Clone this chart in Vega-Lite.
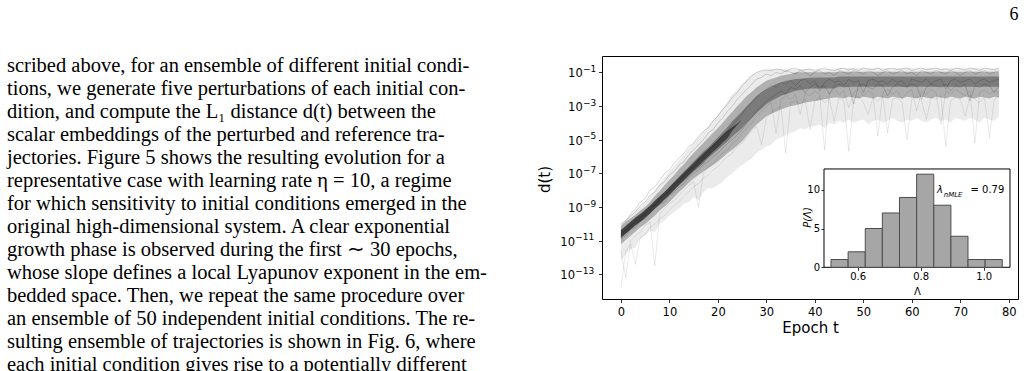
{
"$schema":"https://vega.github.io/schema/vega-lite/v6.json",
"background":"white",
"padding":{"left":7,"top":5,"right":0,"bottom":0},
"bounds":"flush",
"spacing":95,
"title":{"text":"6","anchor":"end","font":"Liberation Serif","fontSize":18,"fontWeight":"normal","color":"black","offset":32},
"config":{
 "view":{"stroke":"black","strokeWidth":1},
 "axis":{"grid":false,"domain":false,"tickColor":"black","tickWidth":0.8,"labelColor":"black","titleColor":"black","labelFont":"DejaVu Sans","titleFont":"DejaVu Sans","titleFontWeight":"normal","labelFontSize":11.5,"titleFontSize":15,"tickSize":3.5,"labelPadding":2}
},
"datasets":{
"page":[
{"line":0,"text":"scribed above, for an ensemble of different initial condi-"},
{"line":1,"text":"tions, we generate five perturbations of each initial con-"},
{"line":2,"text":"dition, and compute the L₁ distance d(t) between the"},
{"line":3,"text":"scalar embeddings of the perturbed and reference tra-"},
{"line":4,"text":"jectories.  Figure 5 shows the resulting evolution for a"},
{"line":5,"text":"representative case with learning rate η = 10, a regime"},
{"line":6,"text":"for which sensitivity to initial conditions emerged in the"},
{"line":7,"text":"original high-dimensional system.  A clear exponential"},
{"line":8,"text":"growth phase is observed during the first ∼ 30 epochs,"},
{"line":9,"text":"whose slope defines a local Lyapunov exponent in the em-"},
{"line":10,"text":"bedded space. Then, we repeat the same procedure over"},
{"line":11,"text":"an ensemble of 50 independent initial conditions. The re-"},
{"line":12,"text":"sulting ensemble of trajectories is shown in Fig. 6, where"},
{"line":13,"text":"each initial condition gives rise to a potentially different"}
],
"yt":[
{"v":0.1,"ex":"−1"},{"v":0.001,"ex":"−3"},{"v":1e-5,"ex":"−5"},{"v":1e-7,"ex":"−7"},{"v":1e-9,"ex":"−9"},{"v":1e-11,"ex":"−11"},{"v":1e-13,"ex":"−13"}
],
"hist":[
{"x0":0.5152,"x1":0.5696,"n":1},
{"x0":0.5696,"x1":0.6240,"n":2},
{"x0":0.6240,"x1":0.6783,"n":5},
{"x0":0.6783,"x1":0.7327,"n":7},
{"x0":0.7327,"x1":0.7871,"n":9},
{"x0":0.7871,"x1":0.8415,"n":12},
{"x0":0.8415,"x1":0.8959,"n":8},
{"x0":0.8959,"x1":0.9502,"n":4},
{"x0":0.9502,"x1":1.0046,"n":1},
{"x0":1.0046,"x1":1.0590,"n":1}
],
"traj":[
{"t":0,"hi":1e-10,"mh":7.1e-11,"kh":4.5e-11,"ek":4.2e-11,"el":1.5e-11,"kl":1.4e-11,"ml":6.3e-12,"lo":6.3e-13,"a":8e-11,"b":2.5e-11,"c":2.5e-12,"d":1.3e-11,"e":1.6e-14,"f":1e-10},
{"t":1,"hi":1.8e-10,"mh":1.3e-10,"kh":8e-11,"ek":7.4e-11,"el":2.7e-11,"kl":2.5e-11,"ml":1.1e-11,"lo":1.6e-12,"a":1.3e-10,"b":4e-11,"c":6.3e-14,"d":2e-11,"e":2.5e-12,"f":1.6e-10},
{"t":2,"hi":3.2e-10,"mh":2.2e-10,"kh":1.4e-10,"ek":1.3e-10,"el":4.8e-11,"kl":4.5e-11,"ml":2e-11,"lo":3.2e-12,"a":3.2e-10,"b":8e-11,"c":1e-11,"d":5e-11,"e":6.3e-12,"f":4e-10},
{"t":3,"hi":6.3e-10,"mh":3.5e-10,"kh":2.5e-10,"ek":2.3e-10,"el":8.5e-11,"kl":8e-11,"ml":3.5e-11,"lo":4e-12,"a":5e-10,"b":1.3e-10,"c":2e-11,"d":6.3e-11,"e":4e-13,"f":8e-10},
{"t":4,"hi":1.1e-9,"mh":6.3e-10,"kh":4e-10,"ek":3.7e-10,"el":1.35e-10,"kl":1.3e-10,"ml":6.3e-11,"lo":1.3e-11,"a":1.3e-9,"b":2.5e-10,"c":3.2e-11,"d":1.6e-10,"e":1.6e-11,"f":2e-9},
{"t":5,"hi":2e-9,"mh":1e-9,"kh":7.1e-10,"ek":6.6e-10,"el":2.4e-10,"kl":2.2e-10,"ml":1e-10,"lo":2e-11,"a":2e-9,"b":4e-10,"c":8e-11,"d":2e-10,"e":2.5e-11,"f":3.2e-9},
{"t":6,"hi":4.5e-9,"mh":2e-9,"kh":1.3e-9,"ek":1.17e-9,"el":4.3e-10,"kl":4e-10,"ml":1.8e-10,"lo":4e-11,"a":5e-9,"b":1e-9,"c":1.3e-10,"d":5e-10,"e":6.3e-11,"f":1e-8},
{"t":7,"hi":1e-8,"mh":4.5e-9,"kh":2.5e-9,"ek":2.3e-9,"el":8.5e-10,"kl":8e-10,"ml":3.2e-10,"lo":3.2e-11,"a":8e-9,"b":1.3e-9,"c":3.2e-13,"d":8e-10,"e":1e-10,"f":1.6e-8},
{"t":8,"hi":2.5e-8,"mh":8.9e-9,"kh":4.5e-9,"ek":4.2e-9,"el":1.5e-9,"kl":1.4e-9,"ml":6.3e-10,"lo":1e-10,"a":2e-8,"b":3.2e-9,"c":4e-10,"d":1.6e-9,"e":2e-10,"f":4e-8},
{"t":9,"hi":5.6e-8,"mh":2e-8,"kh":8e-9,"ek":7.8e-9,"el":2.8e-9,"kl":2.8e-9,"ml":1.1e-9,"lo":1.6e-10,"a":3.2e-8,"b":5e-9,"c":8e-10,"d":2e-9,"e":3.2e-10,"f":1e-7},
{"t":10,"hi":1.3e-7,"mh":4e-8,"kh":1.6e-8,"ek":1.5e-8,"el":5.4e-9,"kl":5e-9,"ml":2e-9,"lo":3.2e-10,"a":8e-8,"b":1e-8,"c":1.6e-9,"d":5e-9,"e":6.3e-10,"f":1.6e-7},
{"t":11,"hi":2.8e-7,"mh":8e-8,"kh":3.2e-8,"ek":3e-8,"el":1.07e-8,"kl":1e-8,"ml":4e-9,"lo":5e-10,"a":1.3e-7,"b":2.5e-8,"c":2.5e-9,"d":8e-9,"e":1.3e-9,"f":4e-7},
{"t":12,"hi":6.3e-7,"mh":1.8e-7,"kh":6.3e-8,"ek":5.9e-8,"el":2.1e-8,"kl":2e-8,"ml":8e-9,"lo":8e-10,"a":3.2e-7,"b":3.2e-8,"c":5e-9,"d":1.6e-8,"e":2e-9,"f":8e-7},
{"t":13,"hi":1.4e-6,"mh":3.5e-7,"kh":1.3e-7,"ek":1.1e-7,"el":4e-8,"kl":3.5e-8,"ml":1.4e-8,"lo":1.6e-9,"a":5e-7,"b":8e-8,"c":1e-8,"d":2.5e-8,"e":5e-9,"f":1.6e-6},
{"t":14,"hi":3.2e-6,"mh":8e-7,"kh":2.5e-7,"ek":2.2e-7,"el":7.9e-8,"kl":7.1e-8,"ml":2.8e-8,"lo":2e-9,"a":1.3e-6,"b":1.6e-7,"c":2e-8,"d":6.3e-8,"e":8e-9,"f":4e-6},
{"t":15,"hi":6.3e-6,"mh":1.6e-6,"kh":5e-7,"ek":4.2e-7,"el":1.5e-7,"kl":1.3e-7,"ml":5e-8,"lo":4e-9,"a":2.5e-6,"b":2.5e-7,"c":3.2e-8,"d":1e-7,"e":1.6e-8,"f":6.3e-6},
{"t":16,"hi":1.4e-5,"mh":3.2e-6,"kh":1e-6,"ek":7.8e-7,"el":2.8e-7,"kl":2.2e-7,"ml":8e-8,"lo":2.5e-9,"a":5e-6,"b":6.3e-7,"c":1e-9,"d":1.6e-7,"e":2.5e-8,"f":1.6e-5},
{"t":17,"hi":3.2e-5,"mh":6.3e-6,"kh":2e-6,"ek":1.5e-6,"el":5.4e-7,"kl":4e-7,"ml":1.3e-7,"lo":8e-9,"a":1e-5,"b":1e-6,"c":1e-7,"d":3.2e-7,"e":5e-8,"f":3.2e-5},
{"t":18,"hi":6.3e-5,"mh":1.3e-5,"kh":3.5e-6,"ek":2.8e-6,"el":1e-6,"kl":8e-7,"ml":2e-7,"lo":1.3e-8,"a":2.5e-5,"b":2.5e-6,"c":2.5e-7,"d":5e-7,"e":8e-8,"f":5e-5},
{"t":19,"hi":1.4e-4,"mh":2.5e-5,"kh":7.1e-6,"ek":5.2e-6,"el":1.9e-6,"kl":1.4e-6,"ml":3.2e-7,"lo":1.3e-8,"a":4e-5,"b":4e-6,"c":4e-7,"d":1e-6,"e":1.6e-7,"f":1.3e-4},
{"t":20,"hi":3.2e-4,"mh":5e-5,"kh":1.4e-5,"ek":9.8e-6,"el":3.5e-6,"kl":2.5e-6,"ml":5e-7,"lo":2e-8,"a":1e-4,"b":8e-6,"c":8e-7,"d":1.6e-6,"e":2.5e-7,"f":2.5e-4},
{"t":21,"hi":8e-4,"mh":1e-4,"kh":2.8e-5,"ek":1.9e-5,"el":6.8e-6,"kl":4.5e-6,"ml":8.9e-7,"lo":3.2e-8,"a":2e-4,"b":2e-5,"c":1.6e-6,"d":3.2e-6,"e":5e-7,"f":6.3e-4},
{"t":22,"hi":2e-3,"mh":2.2e-4,"kh":5.6e-5,"ek":3.5e-5,"el":1.26e-5,"kl":8e-6,"ml":1.6e-6,"lo":6.3e-8,"a":5e-4,"b":3.2e-5,"c":2.5e-6,"d":6.3e-6,"e":1e-6,"f":1.3e-3},
{"t":23,"hi":5e-3,"mh":4.5e-4,"kh":1.3e-4,"ek":5.6e-5,"el":3.5e-5,"kl":1.6e-5,"ml":2.5e-6,"lo":1e-7,"a":1e-3,"b":8e-5,"c":6.3e-6,"d":1e-5,"e":1.6e-6,"f":3.2e-3},
{"t":24,"hi":0.01,"mh":1e-3,"kh":2.5e-4,"ek":9.3e-5,"el":7.4e-5,"kl":2.8e-5,"ml":4.5e-6,"lo":2e-7,"a":2.5e-3,"b":1.6e-4,"c":1e-5,"d":2e-5,"e":4e-6,"f":6.3e-3},
{"t":25,"hi":0.02,"mh":2e-3,"kh":5e-4,"ek":1.6e-4,"el":1.6e-4,"kl":5e-5,"ml":8e-6,"lo":3.2e-7,"a":5e-3,"b":3.2e-4,"c":2.5e-5,"d":4e-5,"e":6.3e-6,"f":0.016},
{"t":26,"hi":0.04,"mh":4e-3,"kh":1e-3,"kl":1e-4,"ml":1.8e-5,"lo":5e-7,"a":0.01,"b":8e-4,"c":5e-5,"d":1e-4,"e":1.6e-5,"f":0.032},
{"t":27,"hi":0.071,"mh":7.1e-3,"kh":2e-3,"kl":2e-4,"ml":4e-5,"lo":8e-7,"a":0.02,"b":1.6e-3,"c":1e-4,"d":2e-4,"e":3.2e-5,"f":0.063},
{"t":28,"hi":0.1,"mh":0.013,"kh":4e-3,"kl":4e-4,"ml":8e-5,"lo":1.6e-6,"a":0.04,"b":3.2e-3,"c":2.5e-4,"d":5e-4,"e":6.3e-5,"f":0.1},
{"t":29,"hi":0.126,"mh":0.02,"kh":6.3e-3,"kl":7.1e-4,"ml":1.4e-4,"lo":2.5e-6,"a":0.05,"b":6.3e-3,"c":5e-4,"d":1e-3,"e":5e-6,"f":0.126},
{"t":30,"hi":0.14,"mh":0.032,"kh":0.01,"kl":1.3e-3,"ml":2.5e-4,"lo":4e-6,"a":0.08,"b":0.01,"c":1e-3,"d":2e-3,"e":2e-4,"f":0.14},
{"t":31,"hi":0.16,"mh":0.04,"kh":0.014,"kl":2e-3,"ml":3.5e-4,"lo":5e-6,"a":0.063,"b":0.016,"c":1.6e-3,"d":3.2e-3,"e":4e-4,"f":0.126},
{"t":32,"hi":0.16,"mh":0.05,"kh":0.02,"kl":2.8e-3,"ml":4.5e-4,"lo":1e-5,"a":0.1,"b":0.013,"c":2.5e-5,"d":5e-3,"e":6.3e-4,"f":0.16},
{"t":33,"hi":0.16,"mh":0.063,"kh":0.025,"kl":4e-3,"ml":6.3e-4,"lo":1.3e-5,"a":0.08,"b":0.025,"c":2.5e-3,"d":8e-3,"e":1e-3,"f":0.14},
{"t":34,"hi":0.16,"mh":0.071,"kh":0.032,"kl":5e-3,"ml":8e-4,"lo":2e-5,"a":0.126,"b":0.02,"c":4e-3,"d":5e-3,"e":1.6e-6,"f":0.11},
{"t":35,"hi":0.16,"mh":0.08,"kh":0.035,"kl":6.3e-3,"ml":1e-3,"lo":2.5e-5,"a":0.1,"b":0.032,"c":2.5e-3,"d":0.013,"e":1.6e-3,"f":0.16},
{"t":36,"hi":0.16,"mh":0.1,"kh":0.04,"kl":8e-3,"ml":1.1e-3,"lo":3.2e-5,"a":0.08,"b":0.016,"c":5e-3,"d":0.01,"e":2e-3,"f":0.18},
{"t":37,"hi":0.16,"mh":0.1,"kh":0.042,"kl":8.9e-3,"ml":1.3e-3,"lo":5e-5,"a":0.126,"b":0.032,"c":3.2e-4,"d":0.016,"e":1.3e-3,"f":0.126},
{"t":38,"hi":0.16,"mh":0.1,"kh":0.045,"kl":0.01,"ml":1.6e-3,"lo":4e-5,"a":0.1,"b":0.04,"c":6.3e-3,"d":6.3e-3,"e":2.5e-3,"f":0.14},
{"t":39,"hi":0.16,"mh":0.1,"kh":0.048,"kl":0.011,"ml":1.8e-3,"lo":6.3e-5,"a":0.063,"b":0.02,"c":4e-3,"d":0.013,"e":4e-5,"f":0.16},
{"t":40,"hi":0.16,"mh":0.1,"kh":0.05,"kl":0.011,"ml":2e-3,"lo":6.3e-5,"a":0.1,"b":0.032,"c":8e-3,"d":0.02,"e":2e-3,"f":0.11},
{"t":41,"hi":0.16,"mh":0.1,"kh":0.05,"kl":0.011,"ml":2.2e-3,"lo":8e-5,"a":0.126,"b":8e-3,"c":5e-3,"d":0.013,"e":3.2e-3,"f":0.16},
{"t":42,"hi":0.16,"mh":0.1,"kh":0.05,"kl":0.011,"ml":2.5e-3,"lo":5e-5,"a":0.08,"b":0.025,"c":2.5e-6,"d":0.016,"e":1.6e-3,"f":0.18},
{"t":43,"hi":0.16,"mh":0.1,"kh":0.05,"kl":0.011,"ml":2.8e-3,"lo":1e-4,"a":0.1,"b":0.04,"c":6.3e-3,"d":5e-3,"e":2.5e-3,"f":0.14},
{"t":44,"hi":0.16,"mh":0.1,"kh":0.05,"kl":0.011,"ml":3.2e-3,"lo":8e-5,"a":0.063,"b":0.025,"c":0.01,"d":0.016,"e":1.3e-4,"f":0.126},
{"t":45,"hi":0.18,"mh":0.11,"kh":0.056,"kl":0.014,"ml":3.2e-3,"lo":1.3e-4,"a":0.126,"b":0.032,"c":5e-3,"d":0.02,"e":3.2e-3,"f":0.16},
{"t":46,"hi":0.17,"mh":0.11,"kh":0.056,"kl":0.014,"ml":2.8e-3,"lo":1e-4,"a":0.1,"b":0.016,"c":8e-3,"d":0.013,"e":2e-3,"f":0.18},
{"t":47,"hi":0.18,"mh":0.11,"kh":0.056,"kl":0.014,"ml":3.5e-3,"lo":1.6e-4,"a":0.08,"b":0.04,"c":8e-4,"d":0.016,"e":2e-6,"f":0.14},
{"t":48,"hi":0.19,"mh":0.11,"kh":0.056,"kl":0.014,"ml":3.2e-3,"lo":1e-4,"a":0.126,"b":0.025,"c":6.3e-3,"d":1.3e-3,"e":2.5e-3,"f":0.16},
{"t":49,"hi":0.18,"mh":0.11,"kh":0.056,"kl":0.014,"ml":2.8e-3,"lo":1.3e-4,"a":0.1,"b":0.032,"c":0.01,"d":0.016,"e":4e-3,"f":0.126},
{"t":50,"hi":0.18,"mh":0.11,"kh":0.056,"kl":0.014,"ml":3.5e-3,"lo":1.6e-4,"a":0.08,"b":0.0063,"c":4e-3,"d":0.02,"e":1.6e-3,"f":0.18},
{"t":51,"hi":0.17,"mh":0.11,"kh":0.056,"kl":0.014,"ml":3.2e-3,"lo":8e-5,"a":0.126,"b":0.032,"c":8e-3,"d":0.013,"e":3.2e-4,"f":0.16},
{"t":52,"hi":0.18,"mh":0.11,"kh":0.056,"kl":0.014,"ml":2.8e-3,"lo":1.3e-4,"a":0.1,"b":0.04,"c":5e-3,"d":0.01,"e":3.2e-3,"f":0.14},
{"t":53,"hi":0.19,"mh":0.11,"kh":0.056,"kl":0.014,"ml":3.5e-3,"lo":1.6e-4,"a":0.063,"b":0.025,"c":1.6e-5,"d":0.02,"e":2e-3,"f":0.18},
{"t":54,"hi":0.18,"mh":0.11,"kh":0.056,"kl":0.014,"ml":3.2e-3,"lo":1e-4,"a":0.1,"b":0.032,"c":6.3e-3,"d":0.016,"e":4e-3,"f":0.126},
{"t":55,"hi":0.18,"mh":0.11,"kh":0.056,"kl":0.014,"ml":2.8e-3,"lo":1.3e-4,"a":0.126,"b":0.02,"c":0.01,"d":4e-3,"e":2.5e-5,"f":0.16},
{"t":56,"hi":0.17,"mh":0.11,"kh":0.056,"kl":0.014,"ml":3.5e-3,"lo":2e-4,"a":0.08,"b":0.04,"c":5e-3,"d":0.013,"e":2.5e-3,"f":0.18},
{"t":57,"hi":0.18,"mh":0.11,"kh":0.056,"kl":0.014,"ml":3.2e-3,"lo":1.3e-4,"a":0.1,"b":0.025,"c":8e-3,"d":0.02,"e":3.2e-3,"f":0.14},
{"t":58,"hi":0.19,"mh":0.11,"kh":0.056,"kl":0.014,"ml":2.8e-3,"lo":1e-4,"a":0.126,"b":0.032,"c":2.5e-3,"d":0.016,"e":1.6e-3,"f":0.16},
{"t":59,"hi":0.18,"mh":0.11,"kh":0.056,"kl":0.014,"ml":3.5e-3,"lo":1.6e-4,"a":0.08,"b":0.013,"c":6.3e-3,"d":0.013,"e":1e-5,"f":0.18},
{"t":60,"hi":0.18,"mh":0.11,"kh":0.056,"kl":0.014,"ml":3.2e-3,"lo":1.3e-4,"a":0.1,"b":0.04,"c":0.01,"d":0.02,"e":2.5e-3,"f":0.126},
{"t":61,"hi":0.17,"mh":0.11,"kh":0.056,"kl":0.014,"ml":2.8e-3,"lo":2e-4,"a":0.063,"b":0.032,"c":5e-4,"d":0.016,"e":4e-3,"f":0.16},
{"t":62,"hi":0.18,"mh":0.11,"kh":0.056,"kl":0.014,"ml":3.5e-3,"lo":1.3e-4,"a":0.126,"b":0.025,"c":8e-3,"d":2.5e-3,"e":2e-3,"f":0.18},
{"t":63,"hi":0.19,"mh":0.11,"kh":0.056,"kl":0.014,"ml":3.2e-3,"lo":1e-4,"a":0.1,"b":0.04,"c":5e-3,"d":0.013,"e":1.6e-4,"f":0.14},
{"t":64,"hi":0.18,"mh":0.11,"kh":0.056,"kl":0.014,"ml":2.8e-3,"lo":1.6e-4,"a":0.08,"b":0.02,"c":0.01,"d":0.02,"e":3.2e-3,"f":0.16},
{"t":65,"hi":0.18,"mh":0.11,"kh":0.056,"kl":0.014,"ml":3.5e-3,"lo":2e-4,"a":0.126,"b":0.032,"c":6.3e-3,"d":0.016,"e":2.5e-3,"f":0.18},
{"t":66,"hi":0.17,"mh":0.11,"kh":0.056,"kl":0.014,"ml":3.2e-3,"lo":1.3e-4,"a":0.1,"b":0.04,"c":8e-5,"d":0.013,"e":4e-3,"f":0.14},
{"t":67,"hi":0.18,"mh":0.11,"kh":0.056,"kl":0.014,"ml":2.8e-3,"lo":1.6e-4,"a":0.08,"b":0.01,"c":8e-3,"d":0.02,"e":4e-6,"f":0.16},
{"t":68,"hi":0.19,"mh":0.11,"kh":0.056,"kl":0.014,"ml":3.5e-3,"lo":1e-4,"a":0.126,"b":0.032,"c":5e-3,"d":8e-3,"e":2e-3,"f":0.126},
{"t":69,"hi":0.18,"mh":0.11,"kh":0.056,"kl":0.014,"ml":3.2e-3,"lo":2e-4,"a":0.1,"b":0.04,"c":0.01,"d":0.016,"e":3.2e-3,"f":0.18},
{"t":70,"hi":0.18,"mh":0.11,"kh":0.056,"kl":0.014,"ml":2.8e-3,"lo":1.6e-4,"a":0.063,"b":0.025,"c":6.3e-3,"d":0.013,"e":2.5e-3,"f":0.16},
{"t":71,"hi":0.17,"mh":0.11,"kh":0.056,"kl":0.014,"ml":3.5e-3,"lo":1.3e-4,"a":0.1,"b":0.032,"c":4e-3,"d":0.02,"e":2.5e-4,"f":0.14},
{"t":72,"hi":0.18,"mh":0.11,"kh":0.056,"kl":0.014,"ml":3.2e-3,"lo":2e-4,"a":0.126,"b":0.04,"c":8e-3,"d":2e-3,"e":4e-3,"f":0.18},
{"t":73,"hi":0.19,"mh":0.11,"kh":0.056,"kl":0.014,"ml":2.8e-3,"lo":1.6e-4,"a":0.08,"b":0.02,"c":6.3e-6,"d":0.016,"e":2.5e-3,"f":0.16},
{"t":74,"hi":0.18,"mh":0.11,"kh":0.056,"kl":0.014,"ml":3.5e-3,"lo":1e-4,"a":0.1,"b":0.032,"c":6.3e-3,"d":0.013,"e":1.6e-3,"f":0.126},
{"t":75,"hi":0.18,"mh":0.11,"kh":0.056,"kl":0.014,"ml":3.2e-3,"lo":2e-4,"a":0.126,"b":0.04,"c":0.01,"d":0.02,"e":3.2e-3,"f":0.18},
{"t":76,"hi":0.17,"mh":0.11,"kh":0.056,"kl":0.014,"ml":2.8e-3,"lo":1.6e-4,"a":0.08,"b":0.025,"c":5e-3,"d":0.016,"e":1.3e-5,"f":0.16},
{"t":77,"hi":0.18,"mh":0.11,"kh":0.056,"kl":0.014,"ml":3.5e-3,"lo":1.3e-4,"a":0.1,"b":0.032,"c":8e-3,"d":0.0063,"e":2.5e-3,"f":0.14},
{"t":78,"hi":0.18,"mh":0.11,"kh":0.056,"kl":0.014,"ml":3.2e-3,"lo":2.5e-4,"a":0.126,"b":0.04,"c":6.3e-3,"d":0.016,"e":4e-3,"f":0.18}
]
},
"hconcat":[
{
 "width":500,"height":320,
 "view":{"stroke":null},
 "data":{"name":"page"},
 "mark":{"type":"text","align":"left","baseline":"alphabetic","font":"Liberation Serif","fontSize":20.5,"color":"black"},
 "encoding":{
  "x":{"datum":0,"type":"quantitative","scale":{"domain":[0,1]},"axis":null},
  "y":{"field":"line","type":"quantitative","scale":{"domain":[-0.692,13.221],"reverse":true,"nice":false,"zero":false},"axis":null},
  "text":{"field":"text"}
 }
},
{
 "width":416,"height":243,
 "layer":[
  {
   "layer":[
    {"data":{"name":"traj"},"mark":{"type":"area","color":"black","opacity":0.08},
     "encoding":{
      "x":{"field":"t","type":"quantitative","title":"Epoch t","scale":{"domain":[-3.9,81.9],"nice":false,"zero":false},
         "axis":{"values":[0,10,20,30,40,50,60,70,80],"title":"Epoch t","labelPadding":4,"titlePadding":2}},
      "y":{"field":"lo","type":"quantitative","title":"d(t)","scale":{"type":"log","domain":[3.5e-15,0.931],"nice":false},
        "axis":{"values":[0.1,0.001,1e-5,1e-7,1e-9,1e-11,1e-13],"labels":false,"titleX":-50,"titleY":123}},
      "y2":{"field":"hi"}}},
    {"data":{"name":"traj"},"mark":{"type":"area","color":"black","opacity":0.25},
     "encoding":{
      "x":{"field":"t","type":"quantitative","title":"Epoch t","scale":{"domain":[-3.9,81.9],"nice":false,"zero":false}},
      "y":{"field":"ml","type":"quantitative","title":"d(t)","scale":{"type":"log","domain":[3.5e-15,0.931],"nice":false}},
      "y2":{"field":"mh"}}},
    {"data":{"name":"traj"},"mark":{"type":"area","color":"black","opacity":0.3},
     "encoding":{
      "x":{"field":"t","type":"quantitative","title":"Epoch t","scale":{"domain":[-3.9,81.9],"nice":false,"zero":false}},
      "y":{"field":"kl","type":"quantitative","title":"d(t)","scale":{"type":"log","domain":[3.5e-15,0.931],"nice":false}},
      "y2":{"field":"kh"}}},
    {"data":{"name":"traj"},"mark":{"type":"area","color":"black","opacity":0.48},
     "encoding":{
      "x":{"field":"t","type":"quantitative","title":"Epoch t","scale":{"domain":[-3.9,81.9],"nice":false,"zero":false}},
      "y":{"field":"el","type":"quantitative","title":"d(t)","scale":{"type":"log","domain":[3.5e-15,0.931],"nice":false}},
      "y2":{"field":"ek"}}},
    {"data":{"name":"traj"},"transform":[{"fold":["a","b","d","f"],"as":["run","d"]}],
     "mark":{"type":"line","color":"black","opacity":0.2,"strokeWidth":0.8},
     "encoding":{
      "x":{"field":"t","type":"quantitative","title":"Epoch t","scale":{"domain":[-3.9,81.9],"nice":false,"zero":false}},
      "y":{"field":"d","type":"quantitative","title":"d(t)","scale":{"type":"log","domain":[3.5e-15,0.931],"nice":false}},
      "detail":{"field":"run"}}},
    {"data":{"name":"traj"},"transform":[{"fold":["c","e"],"as":["run","d"]}],
     "mark":{"type":"line","color":"black","opacity":0.11,"strokeWidth":0.8},
     "encoding":{
      "x":{"field":"t","type":"quantitative","title":"Epoch t","scale":{"domain":[-3.9,81.9],"nice":false,"zero":false}},
      "y":{"field":"d","type":"quantitative","title":"d(t)","scale":{"type":"log","domain":[3.5e-15,0.931],"nice":false}},
      "detail":{"field":"run"}}},
    {"data":{"name":"yt"},"transform":[{"filter":"datum.v > 0.0000000001"}],
     "mark":{"type":"text","text":"10","align":"right","baseline":"middle","dx":-19.3,"dy":2,"font":"DejaVu Sans","fontSize":11.5,"color":"black"},
     "encoding":{"x":{"datum":-3.9,"type":"quantitative","title":"Epoch t","scale":{"domain":[-3.9,81.9],"nice":false,"zero":false}},"y":{"field":"v","type":"quantitative","title":"d(t)","scale":{"type":"log","domain":[3.5e-15,0.931],"nice":false}}}},
    {"data":{"name":"yt"},"transform":[{"filter":"datum.v > 0.0000000001"}],
     "mark":{"type":"text","align":"left","baseline":"middle","dx":-19,"dy":-3.5,"font":"DejaVu Sans","fontSize":9,"color":"black"},
     "encoding":{"x":{"datum":-3.9,"type":"quantitative","title":"Epoch t","scale":{"domain":[-3.9,81.9],"nice":false,"zero":false}},"y":{"field":"v","type":"quantitative","title":"d(t)","scale":{"type":"log","domain":[3.5e-15,0.931],"nice":false}},"text":{"field":"ex"}}},
    {"data":{"name":"yt"},"transform":[{"filter":"datum.v < 0.0000000001"}],
     "mark":{"type":"text","text":"10","align":"right","baseline":"middle","dx":-27,"dy":2,"font":"DejaVu Sans","fontSize":11.5,"color":"black"},
     "encoding":{"x":{"datum":-3.9,"type":"quantitative","title":"Epoch t","scale":{"domain":[-3.9,81.9],"nice":false,"zero":false}},"y":{"field":"v","type":"quantitative","title":"d(t)","scale":{"type":"log","domain":[3.5e-15,0.931],"nice":false}}}},
    {"data":{"name":"yt"},"transform":[{"filter":"datum.v < 0.0000000001"}],
     "mark":{"type":"text","align":"left","baseline":"middle","dx":-26.7,"dy":-3.5,"font":"DejaVu Sans","fontSize":9,"color":"black"},
     "encoding":{"x":{"datum":-3.9,"type":"quantitative","title":"Epoch t","scale":{"domain":[-3.9,81.9],"nice":false,"zero":false}},"y":{"field":"v","type":"quantitative","title":"d(t)","scale":{"type":"log","domain":[3.5e-15,0.931],"nice":false}},"text":{"field":"ex"}}}
   ]
  },
  {
   "layer":[
    {"data":{"values":[{}]},
     "mark":{"type":"rect","fill":"white","stroke":"black","strokeWidth":1},
     "encoding":{
      "x":{"datum":0.493,"type":"quantitative","scale":{"domain":[-0.2117,1.1089],"nice":false,"zero":false},
        "axis":{"orient":"bottom","offset":-31.7,"values":[0.6,0.8,1.0],"format":".1f","tickSize":3,"labelFontSize":10,"labelPadding":1.5,"title":"Λ","titleFontSize":10,"titleX":315,"titleY":26.7,"titleBaseline":"alphabetic"}},
      "x2":{"datum":1.0835},
      "y":{"datum":0,"type":"quantitative","scale":{"domain":[-4.085,27.23],"nice":false,"zero":false},
        "axis":{"orient":"left","offset":-222,"values":[0,5,10],"tickSize":3,"labelFontSize":10,"labelPadding":1.5,"title":"P(Λ)","titleFontSize":10,"titleFontStyle":"italic","titleX":-14,"titleY":161,"titleBaseline":"alphabetic","titleAngle":270}},
      "y2":{"datum":12.67}
     }},
    {"data":{"name":"hist"},
     "mark":{"type":"rect","fill":"#a6a6a6","stroke":"#4d4d4d","strokeWidth":1},
     "encoding":{
      "x":{"field":"x0","type":"quantitative","scale":{"domain":[-0.2117,1.1089],"nice":false,"zero":false}},
      "x2":{"field":"x1"},
      "y":{"field":"n","type":"quantitative","scale":{"domain":[-4.085,27.23],"nice":false,"zero":false}},
      "y2":{"datum":0}
     }},
    {"data":{"values":[{}]},
     "mark":{"type":"text","text":"λ","align":"left","baseline":"middle","font":"DejaVu Sans","fontSize":10,"fontStyle":"italic","color":"black"},
     "encoding":{"x":{"datum":0.852,"type":"quantitative","scale":{"domain":[-0.2117,1.1089],"nice":false,"zero":false}},"y":{"datum":9.9,"type":"quantitative","scale":{"domain":[-4.085,27.23],"nice":false,"zero":false}}}},
    {"data":{"values":[{}]},
     "mark":{"type":"text","text":"nMLE","align":"left","baseline":"middle","font":"DejaVu Sans","fontSize":7,"fontStyle":"italic","color":"black"},
     "encoding":{"x":{"datum":0.873,"type":"quantitative","scale":{"domain":[-0.2117,1.1089],"nice":false,"zero":false}},"y":{"datum":9.3,"type":"quantitative","scale":{"domain":[-4.085,27.23],"nice":false,"zero":false}}}},
    {"data":{"values":[{}]},
     "mark":{"type":"text","text":"= 0.79","align":"left","baseline":"middle","font":"DejaVu Sans","fontSize":10,"color":"black"},
     "encoding":{"x":{"datum":0.958,"type":"quantitative","scale":{"domain":[-0.2117,1.1089],"nice":false,"zero":false}},"y":{"datum":9.9,"type":"quantitative","scale":{"domain":[-4.085,27.23],"nice":false,"zero":false}}}}
   ]
  }
 ],
 "resolve":{"scale":{"x":"independent","y":"independent"}}
}
]
}
